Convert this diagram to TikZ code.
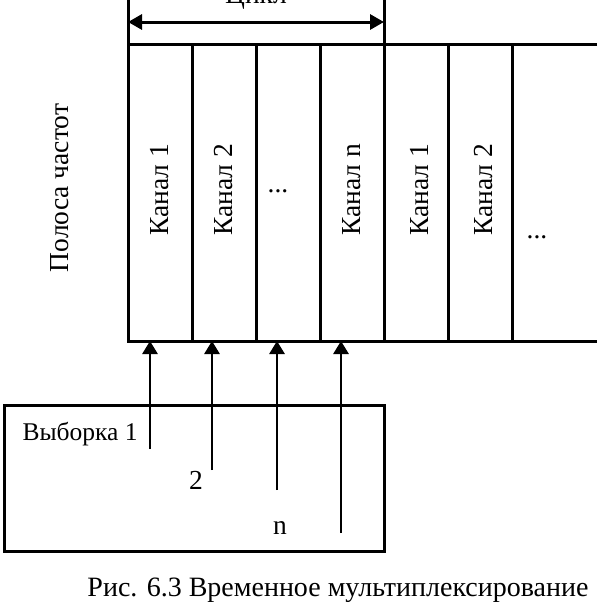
\documentclass[tikz,border=0pt]{standalone}
\usepackage{fontspec}
\setmainfont{Liberation Serif}
\usetikzlibrary{arrows.meta}
\begin{document}
\begin{tikzpicture}[x=1pt, y=-1pt, line width=3pt,
    font=\fontsize{27.5}{32}\selectfont,
    ptr/.style={line width=2.8pt, -{Triangle[length=13pt,width=15pt]}},
    chan/.style={rotate=90, inner sep=0pt}]
      \useasboundingbox (0,0) rectangle (597,605);

      % Frequency bands
      \draw (597,44) -- (128,44) -- (128,341) -- (597,341);
      \foreach \x in {192,256,320,448,512} \draw (\x,44) -- (\x,341);
      \draw (128,0) -- (128,44); \draw (384,0) -- (384,341);
      \coordinate (cl) at (128,22); \coordinate (cr) at (384,22);
      \draw[{Triangle[length=14pt,width=15pt]}-{Triangle[length=14pt,width=15pt]}] (cl) -- (cr);
      \node[anchor=base] (cyc) at (256,4) {Цикл};
      \node[chan] (band) at (60,188) {Полоса частот};

      % Channels
      \node[chan] (k1) at (160,190) {Канал 1}; \node[chan] (k2) at (224,190) {Канал 2};
      \node[anchor=base] (d1) at (278,192) {...}; \node[chan] (kn) at (352,190) {Канал n};
      \node[chan] (k1b) at (420,190) {Канал 1}; \node[chan] (k2b) at (484,190) {Канал 2};
      \node[anchor=base] (d2) at (537,238) {...};

      % Samples
      \draw (4,405) rectangle (384,551);
      \node[anchor=west, inner sep=0pt, font=\fontsize{25.5}{30}\selectfont] (s1) at (21,434) {Выборка 1};
      \node (s2) at (196,480) {2};
      \node (sn) at (280,528) {n};
      \coordinate (a1) at (150,449); \coordinate (b1) at (150,341);
      \coordinate (a2) at (212,470); \coordinate (b2) at (212,341);
      \coordinate (a3) at (277,490); \coordinate (b3) at (277,341);
      \coordinate (a4) at (341,533); \coordinate (b4) at (341,341);
      \foreach \i in {1,...,4} \draw[ptr] (a\i) -- (b\i);

      \node[font=\fontsize{28}{33}\selectfont] (cap) at (338,590) {Рис. 6.3 Временное мультиплексирование};
    \end{tikzpicture}
\end{document}
